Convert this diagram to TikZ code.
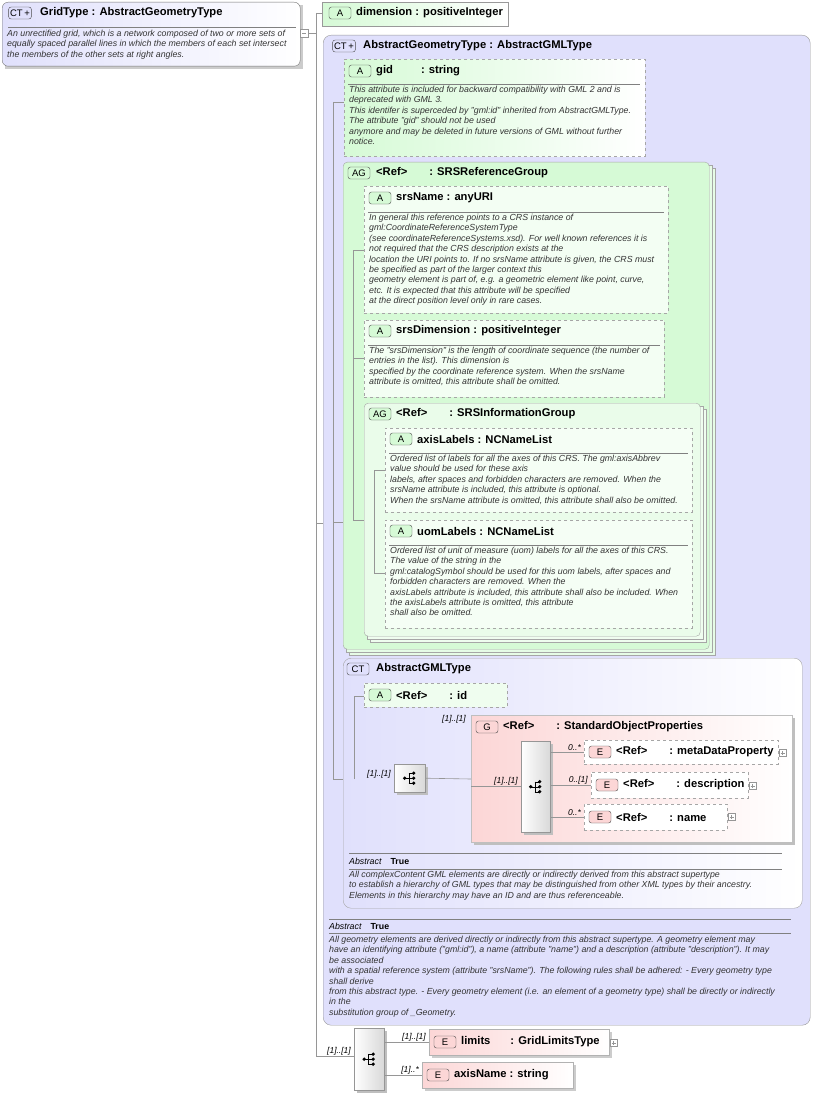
\documentclass[tikz,border=0pt]{standalone}
\usepackage{fontspec}
\setmainfont{Liberation Sans}
\usetikzlibrary{shapes.geometric,calc}
\definecolor{lav}{RGB}{224,224,252}
\definecolor{grn}{RGB}{214,250,214}
\definecolor{pnk}{RGB}{252,214,214}
\definecolor{gr}{RGB}{150,150,150}
\newcommand\hfont{\fontsize{11.2}{12}\selectfont\bfseries}
\newcommand\dfont{\fontsize{8.8}{10.4}\selectfont\itshape\color{black!80}}
\newcommand\hd[3]{\node[anchor=west,font=\hfont,inner sep=0] at (#1,#2) {#3};}
\newcommand\ds[3]{\node[anchor=north west,font=\dfont,align=left,inner sep=0] at (#1,#2) {#3};}
\newcommand\tg[4]{\node[draw=black!70,rounded corners=2.5pt,fill=#4,font=\fontsize{9.5}{10}\selectfont,inner sep=1.5pt,minimum height=12,minimum width=22] at (#1,#2) {#3};}
\newcommand\sq[5]{%
 \fill[black!25] (#1+3,#2+3) rectangle (#3+3,#4+3);
 \node[draw=gr,left color=white,right color=black!15,anchor=north west,minimum width=#3-#1,minimum height=#4-#2,inner sep=0] (#5) at (#1,#2) {};
 \fill ($(#5.center)+(-5,0)$) circle(1.8); \draw ($(#5.center)+(-5,0)$) -- ++(4,0);
 \draw ($(#5.center)+(-1,-5)$) -- ++(0,10); \foreach \d in {-5,0,5}{\draw ($(#5.center)+(-1,\d)$)--++(4,0); \fill ($(#5.center)+(4,\d)$) circle(1.8);}}
\newcommand\lab[3]{\node[anchor=south east,font=\fontsize{8.5}{9}\selectfont\itshape,inner sep=1pt] at (#1,#2) {#3};}
\newcommand\plus[2]{\draw[gr,fill=white] (#1,#2-3.5) rectangle ++(7,7); \draw[gr] (#1+1.5,#2)--++(4,0) (#1+3.5,#2-2)--++(0,4);}
\tikzset{dsh/.style={draw=black!35,dashed},ln/.style={draw=gr,line width=0.6pt}}
\begin{document}
\begin{tikzpicture}[x=1pt,y=-1pt]
\useasboundingbox (0,0) rectangle (815,1094);
\draw[ln] (308,33)--(316,33) (316,13)--(316,1056) (316,13)--(322,13) (316,523)--(323,523) (316,1056)--(354,1056);
% GridType
\fill[black!20] (5,5) rectangle (303,69);
\node[draw=black!55,rounded corners=6pt,left color=lav,right color=white,anchor=north west,minimum width=298,minimum height=64,inner sep=0] (grid) at (2,2) {};
\tg{20}{13}{CT\,+}{lav} \hd{40}{13}{GridType : AbstractGeometryType}
\draw[black!50] (8,27)--(296,27);
\ds{7}{30}{An unrectified grid, which is a network composed of two or more sets of\\equally spaced parallel lines in which the members of each set intersect\\the members of the other sets at right angles.}
\draw[gr,fill=white] (300,29) rectangle (308,37); \draw[gr] (302,33)--(306,33);
% dimension
\node[draw=black!40,left color=grn,right color=white,anchor=north west,minimum width=186,minimum height=24,inner sep=0] (dim) at (322,2) {};
\tg{340}{13}{A}{grn} \hd{356}{13}{dimension : positiveInteger}
% AbstractGeometryType
\node[draw=black!40,rounded corners=8pt,fill=lav,anchor=north west,minimum width=487,minimum height=990,inner sep=0] (agt) at (323,35) {};
\tg{344}{46}{CT\,+}{lav} \hd{363}{46}{AbstractGeometryType : AbstractGMLType}
\draw[ln] (333,102)--(333,779) (333,102)--(344,102) (333,522)--(343,522) (333,779)--(394,779);
% gid
\node[dsh,left color=grn,right color=white,anchor=north west,minimum width=301,minimum height=97,inner sep=0] (gid) at (344,59) {};
\tg{360}{71}{A}{grn} \hd{376}{71}{gid\hspace{28pt}: string}
\draw[black!50] (348,84)--(640,84);
\ds{349}{86}{This attribute is included for backward compatibility with GML 2 and is\\deprecated with GML 3.\\This identifer is superceded by "gml:id" inherited from AbstractGMLType.\\The attribute "gid" should not be used\\anymore and may be deleted in future versions of GML without further\\notice.}
% SRSReferenceGroup
\foreach \o in {6,3}{\draw[black!35,fill=grn!60] (343+\o,162+\o) rectangle (709+\o,649+\o);}
\node[draw=black!35,rounded corners=4pt,fill=grn,anchor=north west,minimum width=366,minimum height=487,inner sep=0] (srs) at (343,162) {};
\tg{359}{173}{AG}{grn} \hd{376}{173}{<Ref>\hspace{22pt}: SRSReferenceGroup}
\draw[ln] (353,250)--(353,520) (353,250)--(364,250) (353,358)--(364,358) (353,520)--(364,520);
\node[dsh,fill=grn!30!white,anchor=north west,minimum width=304,minimum height=127,inner sep=0] at (364,186) {};
\tg{380}{198}{A}{grn} \hd{396}{198}{srsName : anyURI}
\draw[black!50] (368,212)--(664,212);
\ds{369}{214}{In general this reference points to a CRS instance of\\gml:CoordinateReferenceSystemType\\(see coordinateReferenceSystems.xsd). For well known references it is\\not required that the CRS description exists at the\\location the URI points to. If no srsName attribute is given, the CRS must\\be specified as part of the larger context this\\geometry element is part of, e.g. a geometric element like point, curve,\\etc. It is expected that this attribute will be specified\\at the direct position level only in rare cases.}
\node[dsh,fill=grn!30!white,anchor=north west,minimum width=300,minimum height=77,inner sep=0] at (364,320) {};
\tg{380}{331}{A}{grn} \hd{396}{331}{srsDimension : positiveInteger}
\draw[black!50] (368,345)--(660,345);
\ds{369}{347}{The "srsDimension" is the length of coordinate sequence (the number of\\entries in the list). This dimension is\\specified by the coordinate reference system. When the srsName\\attribute is omitted, this attribute shall be omitted.}
% SRSInformationGroup
\foreach \o in {6,3}{\draw[black!35,fill=grn!40] (364+\o,403+\o) rectangle (700+\o,636+\o);}
\node[draw=black!35,rounded corners=4pt,fill=grn!50!white,anchor=north west,minimum width=336,minimum height=233,inner sep=0] at (364,403) {};
\tg{380}{414}{AG}{grn} \hd{396}{414}{<Ref>\hspace{22pt}: SRSInformationGroup}
\draw[ln] (374,470)--(374,573) (374,470)--(385,470) (374,573)--(385,573);
\node[dsh,fill=grn!25!white,anchor=north west,minimum width=307,minimum height=84,inner sep=0] at (385,428) {};
\tg{401}{439}{A}{grn} \hd{417}{439}{axisLabels : NCNameList}
\draw[black!50] (389,453)--(688,453);
\ds{390}{455}{Ordered list of labels for all the axes of this CRS. The gml:axisAbbrev\\value should be used for these axis\\labels, after spaces and forbidden characters are removed. When the\\srsName attribute is included, this attribute is optional.\\When the srsName attribute is omitted, this attribute shall also be omitted.}
\node[dsh,fill=grn!25!white,anchor=north west,minimum width=307,minimum height=108,inner sep=0] at (385,520) {};
\tg{401}{531}{A}{grn} \hd{417}{531}{uomLabels : NCNameList}
\draw[black!50] (389,545)--(688,545);
\ds{390}{547}{Ordered list of unit of measure (uom) labels for all the axes of this CRS.\\The value of the string in the\\gml:catalogSymbol should be used for this uom labels, after spaces and\\forbidden characters are removed. When the\\axisLabels attribute is included, this attribute shall also be included. When\\the axisLabels attribute is omitted, this attribute\\shall also be omitted.}
% AbstractGMLType
\node[draw=black!35,rounded corners=8pt,left color=lav,right color=white,anchor=north west,minimum width=459,minimum height=250,inner sep=0] (gml) at (343,658) {};
\tg{358}{669}{CT}{lav} \hd{376}{669}{AbstractGMLType}
\draw[ln] (354,779)--(354,696)--(364,696);
\node[dsh,fill=grn!40!white,anchor=north west,minimum width=143,minimum height=24,inner sep=0] (idn) at (364,683) {};
\tg{380}{695}{A}{grn} \hd{396}{695}{<Ref>\hspace{22pt}: id}
\lab{392}{779}{[1]..[1]}
\sq{394}{764}{425}{792}{s1}
\draw[ln] (s1.east)--(471,779);
% StandardObjectProperties
\fill[black!25] (474,718) rectangle (795,845);
\node[draw=black!25,left color=pnk,right color=white,anchor=north west,minimum width=321,minimum height=127,inner sep=0] (sop) at (471,715) {};
\lab{467}{724}{[1]..[1]}
\tg{487}{727}{G}{pnk} \hd{503}{727}{<Ref>\hspace{22pt}: StandardObjectProperties}
\draw[ln] (471,786)--(521,786); \lab{519}{786}{[1]..[1]}
\sq{521}{741}{550}{832}{s2}
\draw[ln] (550,752)--(584,752) (550,785)--(591,785) (550,817)--(584,817);
\lab{582}{752}{0..*}\lab{589}{785}{0..[1]}\lab{582}{817}{0..*}
\node[dsh,fill=white,anchor=north west,minimum width=194,minimum height=24,inner sep=0] at (584,740) {};
\tg{600}{752}{E}{pnk} \hd{616}{752}{<Ref>\hspace{22pt}: metaDataProperty} \plus{779}{753}
\node[dsh,fill=white,anchor=north west,minimum width=157,minimum height=26,inner sep=0] at (591,772) {};
\tg{607}{785}{E}{pnk} \hd{623}{785}{<Ref>\hspace{22pt}: description} \plus{749}{786}
\node[dsh,fill=white,anchor=north west,minimum width=143,minimum height=26,inner sep=0] at (584,804) {};
\tg{600}{817}{E}{pnk} \hd{616}{817}{<Ref>\hspace{22pt}: name} \plus{728}{817}
\draw[black!50] (349,853)--(782,853) (349,869)--(782,869);
\node[anchor=west,inner sep=0,font=\fontsize{8.8}{10}\selectfont] at (349,861) {\textit{Abstract}\quad\textbf{True}};
\ds{349}{871}{All complexContent GML elements are directly or indirectly derived from this abstract supertype\\to establish a hierarchy of GML types that may be distinguished from other XML types by their ancestry.\\Elements in this hierarchy may have an ID and are thus referenceable.}
% outer abstract
\draw[black!50] (329,919)--(791,919) (329,933)--(791,933);
\node[anchor=west,inner sep=0,font=\fontsize{8.8}{10}\selectfont] at (329,926) {\textit{Abstract}\quad\textbf{True}};
\ds{329}{936}{All geometry elements are derived directly or indirectly from this abstract supertype. A geometry element may\\have an identifying attribute ("gml:id"), a name (attribute "name") and a description (attribute "description"). It may\\be associated\\with a spatial reference system (attribute "srsName"). The following rules shall be adhered: - Every geometry type\\shall derive\\from this abstract type. - Every geometry element (i.e. an element of a geometry type) shall be directly or indirectly\\in the\\substitution group of \_Geometry.}
% bottom sequence
\lab{352}{1056}{[1]..[1]}
\sq{354}{1028}{384}{1090}{s3}
\draw[ln] (384,1042)--(429,1042) (384,1075)--(422,1075);
\lab{427}{1042}{[1]..[1]}\lab{420}{1075}{[1]..*}
\fill[black!20] (432,1032) rectangle (612,1058);
\node[draw=black!30,left color=pnk,right color=white,anchor=north west,minimum width=180,minimum height=26,inner sep=0] (lim) at (429,1029) {};
\tg{445}{1042}{E}{pnk} \hd{461}{1042}{limits\hspace{20pt}: GridLimitsType} \plus{610}{1043}
\fill[black!20] (425,1065) rectangle (576,1091);
\node[draw=black!30,left color=pnk,right color=white,anchor=north west,minimum width=151,minimum height=26,inner sep=0] (axn) at (422,1062) {};
\tg{438}{1075}{E}{pnk} \hd{454}{1075}{axisName : string}
\end{tikzpicture}
\end{document}
